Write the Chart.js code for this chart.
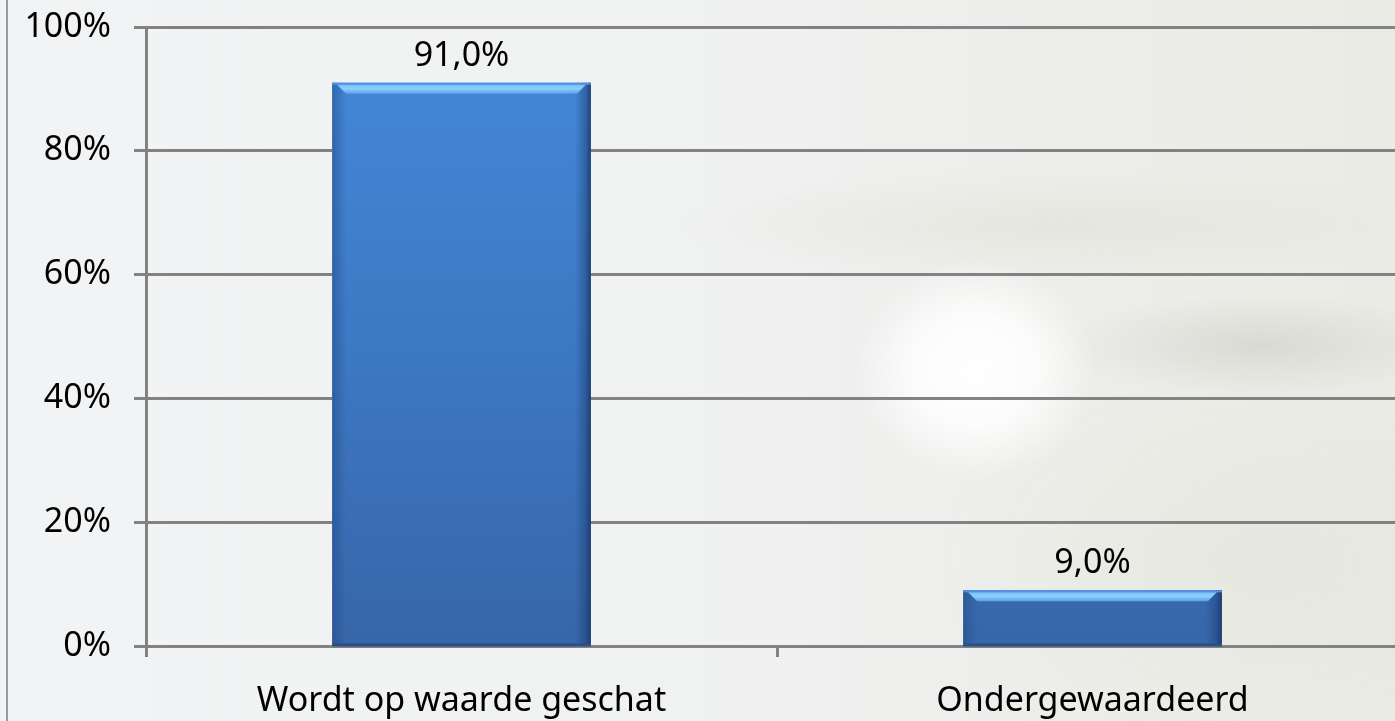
<!DOCTYPE html>
<html>
<head>
<meta charset="utf-8">
<script src="https://cdn.jsdelivr.net/npm/chart.js@4.4.1/dist/chart.umd.min.js"></script>
<style>
  html, body { margin: 0; padding: 0; overflow: hidden; width: 1395px; height: 721px; }
  body {
    background:
      radial-gradient(ellipse 120px 110px at 975px 370px, rgba(255,255,255,1) 0%, rgba(255,255,255,0.8) 50%, rgba(255,255,255,0) 100%),
      radial-gradient(ellipse 200px 50px at 1260px 345px, rgba(205,205,200,0.6) 0%, rgba(212,212,206,0.3) 60%, rgba(225,226,218,0) 100%),
      radial-gradient(ellipse 380px 55px at 1060px 225px, rgba(222,224,212,0.55) 0%, rgba(226,228,218,0) 100%),
      radial-gradient(ellipse 320px 200px at 1260px 560px, rgba(228,230,220,0.7) 0%, rgba(232,234,224,0) 100%),
      linear-gradient(90deg, #f2f3f4 0%, #f0f1f1 50%, #eaebe4 100%);
  }
  #wrap { position: absolute; left: 0; top: 0; width: 1420px; height: 721px; }
  #rand { position: absolute; left: 6px; top: 0; width: 2px; height: 721px; background: #9a9a9a; }
</style>
</head>
<body>
<div id="rand"></div>
<div id="wrap"><canvas id="grafico" width="1420" height="721"></canvas></div>
<script>
// --- DATOS ---
const categorias = ["Wordt op waarde geschat", "Ondergewaardeerd"];
const valores = [91.0, 9.0];
const ticksY = [0, 20, 40, 60, 80, 100];

const FUENTE = "'Noto Sans', 'Open Sans', sans-serif";
const GRIS = "#828282";

// --- RELIEVE DE LAS BARRAS ---
const pluginRelieve = {
  id: "relieve",
  afterDatasetsDraw(chart) {
    const ctx = chart.ctx;
    chart.getDatasetMeta(0).data.forEach((bar) => {
      const x0 = bar.x - bar.width / 2;
      const x1 = bar.x + bar.width / 2;
      const top = bar.y;
      const base = bar.base;
      ctx.save();
      // borde izquierdo
      let g = ctx.createLinearGradient(x0, 0, x0 + 14, 0);
      g.addColorStop(0, "rgba(35,75,135,0.55)");
      g.addColorStop(1, "rgba(35,75,135,0)");
      ctx.fillStyle = g;
      ctx.fillRect(x0, top, 14, base - top);
      // borde derecho
      g = ctx.createLinearGradient(x1 - 16, 0, x1, 0);
      g.addColorStop(0, "rgba(25,55,105,0)");
      g.addColorStop(0.7, "rgba(25,55,105,0.45)");
      g.addColorStop(1, "rgba(25,55,105,0.9)");
      ctx.fillStyle = g;
      ctx.fillRect(x1 - 16, top, 16, base - top);
      // brillo superior
      ctx.fillStyle = "#4f93e2";
      ctx.fillRect(x0, top, x1 - x0, 2);
      ctx.beginPath();
      ctx.moveTo(x0 + 5, top + 2);
      ctx.lineTo(x1 - 5, top + 2);
      ctx.lineTo(x1 - 14, top + 11);
      ctx.lineTo(x0 + 14, top + 11);
      ctx.closePath();
      g = ctx.createLinearGradient(0, top + 2, 0, top + 11);
      g.addColorStop(0, "#7cc0fa");
      g.addColorStop(0.45, "#8ccffe");
      g.addColorStop(1, "#5a9fe6");
      ctx.fillStyle = g;
      ctx.fill();
      // borde inferior
      ctx.fillStyle = "#2c4e83";
      ctx.fillRect(x0, base - 1, x1 - x0, 3);
      ctx.restore();
    });
  },
};

// --- ETIQUETAS DE VALOR ---
const pluginEtiquetas = {
  id: "etiquetas",
  afterDraw(chart) {
    const ctx = chart.ctx;
    ctx.save();
    ctx.font = "34px " + FUENTE;
    ctx.fillStyle = "#000";
    ctx.textAlign = "center";
    ctx.textBaseline = "alphabetic";
    chart.getDatasetMeta(0).data.forEach((bar, i) => {
      const txt = valores[i].toFixed(1).replace(".", ",") + "%";
      ctx.fillText(txt, bar.x, bar.y - 17);
    });
    ctx.restore();
  },
};

function rellenoBarra(context) {
  const area = context.chart.chartArea;
  if (!area) return "#3f7bc9";
  const g = context.chart.ctx.createLinearGradient(0, area.top, 0, area.bottom);
  g.addColorStop(0, "#4489da");
  g.addColorStop(0.5, "#3d79c4");
  g.addColorStop(1, "#3766a9");
  return g;
}

new Chart(document.getElementById("grafico"), {
  type: "bar",
  data: {
    labels: categorias,
    datasets: [{
      data: valores,
      backgroundColor: rellenoBarra,
      borderWidth: 0,
      categoryPercentage: 1,
      barPercentage: 0.41,
    }],
  },
  options: {
    responsive: false,
    animation: false,
    layout: { padding: { top: 27, right: 12, left: 0, bottom: 0 } },
    plugins: { legend: { display: false }, tooltip: { enabled: false } },
    scales: {
      x: {
        afterFit: (s) => { s.height = 75; s.paddingLeft = 0; s.paddingRight = 0; },
        grid: { drawOnChartArea: false, drawTicks: true, tickLength: 11, color: GRIS, lineWidth: 3, offset: true },
        border: { display: true, color: GRIS, width: 3 },
        ticks: { color: "#000", font: { family: FUENTE, size: 34 }, padding: 24, maxRotation: 0 },
      },
      y: {
        min: 0,
        max: 100,
        afterFit: (s) => { s.width = 146; s.paddingTop = 0; s.paddingBottom = 0; },
        afterBuildTicks: (s) => { s.ticks = ticksY.map((v) => ({ value: v })); },
        grid: { color: GRIS, lineWidth: 3, tickLength: 12 },
        border: { display: true, color: GRIS, width: 3 },
        ticks: {
          color: "#000",
          font: { family: FUENTE, size: 34 },
          padding: 23,
          callback: (v) => v + "%",
        },
      },
    },
  },
  plugins: [pluginRelieve, pluginEtiquetas],
});
</script>
</body>
</html>
